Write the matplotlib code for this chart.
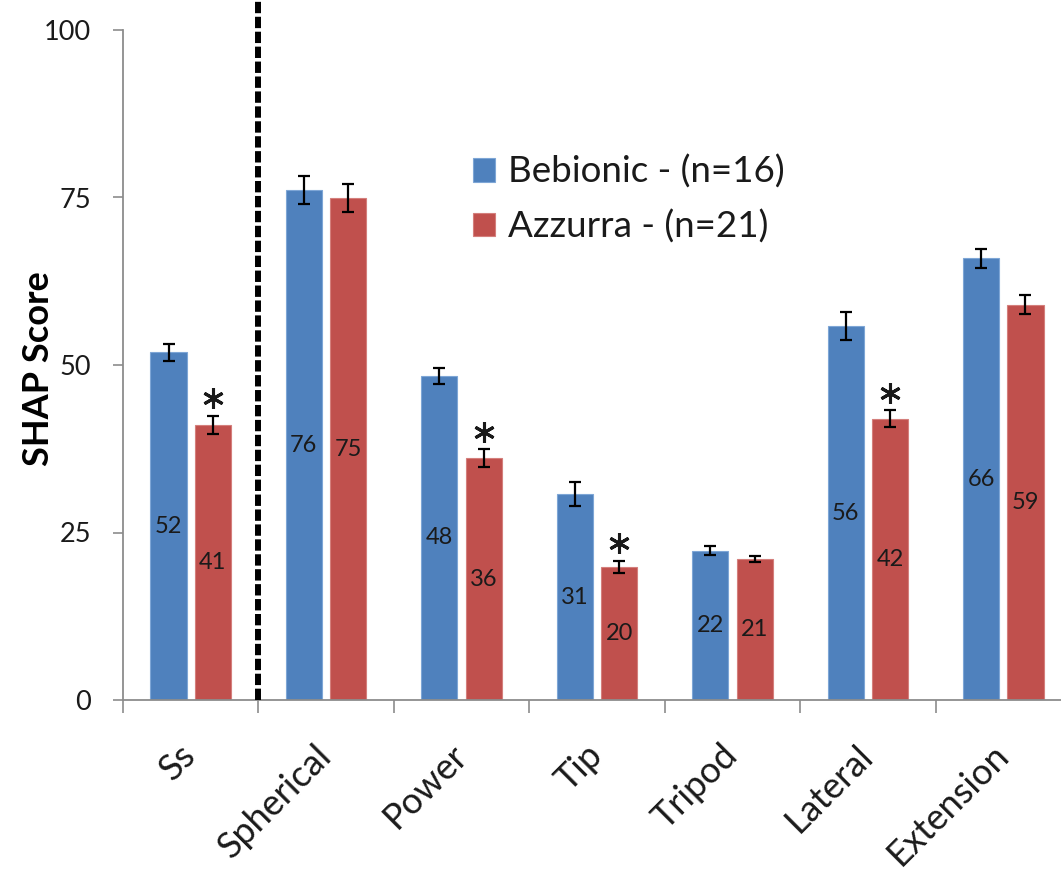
import numpy as np
import matplotlib
matplotlib.use("Agg")
import matplotlib.pyplot as plt

plt.rcParams["font.family"] = ["Lato", "DejaVu Sans"]

# Grasp categories and mean SHAP scores (± SEM) for each hand
categories = ["Ss", "Spherical", "Power", "Tip", "Tripod", "Lateral", "Extension"]
bebionic = [51.9, 76.1, 48.4, 30.7, 22.3, 55.8, 65.9]
azzurra = [41.1, 74.9, 36.1, 19.9, 21.0, 42.0, 59.0]
bebionic_err = [1.3, 2.1, 1.2, 1.8, 0.65, 2.1, 1.4]
azzurra_err = [1.35, 2.05, 1.35, 0.9, 0.45, 1.25, 1.4]
significant = [True, False, True, True, False, True, False]
series_labels = ["Bebionic - (n=16)", "Azzurra - (n=21)"]
y_ticks = [0, 25, 50, 75, 100]

BLUE = "#4F81BD"
RED = "#C0504D"
TEXT = "#1a1a1a"
AXIS = "#8c8c8c"

W, H = 1061, 872
fig = plt.figure(figsize=(W / 100, H / 100), dpi=100)
ax = fig.add_axes([123 / W, 172 / H, 948 / W, 670 / H])

x = np.arange(len(categories))
width = 0.266
off = 0.164

err_kw = dict(ecolor="black", elinewidth=1.6, capsize=4, capthick=1.6)
b1 = ax.bar(x - off, bebionic, width, color=BLUE, edgecolor="#7ea6d6",
            linewidth=0.8, yerr=bebionic_err, error_kw=err_kw,
            label=series_labels[0], zorder=2)
b2 = ax.bar(x + off, azzurra, width, color=RED, edgecolor="#d47f7c",
            linewidth=0.8, yerr=azzurra_err, error_kw=err_kw,
            label=series_labels[1], zorder=2)

# value labels centred inside the bars
for xs, vals in ((x - off, bebionic), (x + off, azzurra)):
    for xi, v in zip(xs, vals):
        ax.text(xi, v / 2, f"{v:.0f}", ha="center", va="center",
                fontsize=17, color=TEXT, zorder=3)

# significance asterisks above the Azzurra bars
sig_x = [xi for xi, s in zip(x + off, significant) if s]
sig_y = [v + e + 2.6 for v, e, s in zip(azzurra, azzurra_err, significant) if s]
ax.plot(sig_x, sig_y, linestyle="none", marker=(6, 2, 0), markersize=15,
        markeredgewidth=2.2, color=TEXT, zorder=3, clip_on=False)

# dashed separator between Ss and the grasp categories
ax.axvline(0.5, ymin=0, ymax=700 / 670, color="black", lw=4.3,
           linestyle=(0, (1.9, 0.6)), clip_on=False, zorder=4)

ax.set_xlim(-0.5, 6.5)
ax.set_ylim(0, 100)
ax.set_yticks(y_ticks)
ax.set_yticklabels([str(t) for t in y_ticks], fontsize=19.5, color=TEXT)
ax.tick_params(axis="y", direction="out", length=7, width=1.2,
               color=AXIS, pad=16)

ax.set_xticks(x)
ax.set_xticklabels(categories, rotation=45, ha="right", va="center",
                   rotation_mode="anchor", fontsize=26, color=TEXT)
ax.tick_params(axis="x", which="major", length=0, pad=36)
ax.set_xticks(np.arange(-0.5, 6.6, 1.0), minor=True)
ax.tick_params(axis="x", which="minor", direction="out", length=9,
               width=1.2, color=AXIS)

for side in ("top", "right"):
    ax.spines[side].set_visible(False)
for side in ("left", "bottom"):
    ax.spines[side].set_color(AXIS)
    ax.spines[side].set_linewidth(1.3)

ylab = ax.set_ylabel("SHAP Score", fontsize=26, fontweight="bold",
                     color="black", va="center")
ax.yaxis.set_label_coords(39 / W, 1 - 369 / H, transform=fig.transFigure)

leg = ax.legend(handles=[b1, b2], loc="upper left",
                bbox_to_anchor=(473 / W, 1 - 155 / H),
                bbox_transform=fig.transFigure, frameon=False,
                fontsize=26.5, handlelength=0.6, handleheight=0.6,
                handletextpad=0.35, labelspacing=0.55, borderpad=0,
                borderaxespad=0)
for t in leg.get_texts():
    t.set_color(TEXT)

fig.savefig("out.png", dpi=100)
